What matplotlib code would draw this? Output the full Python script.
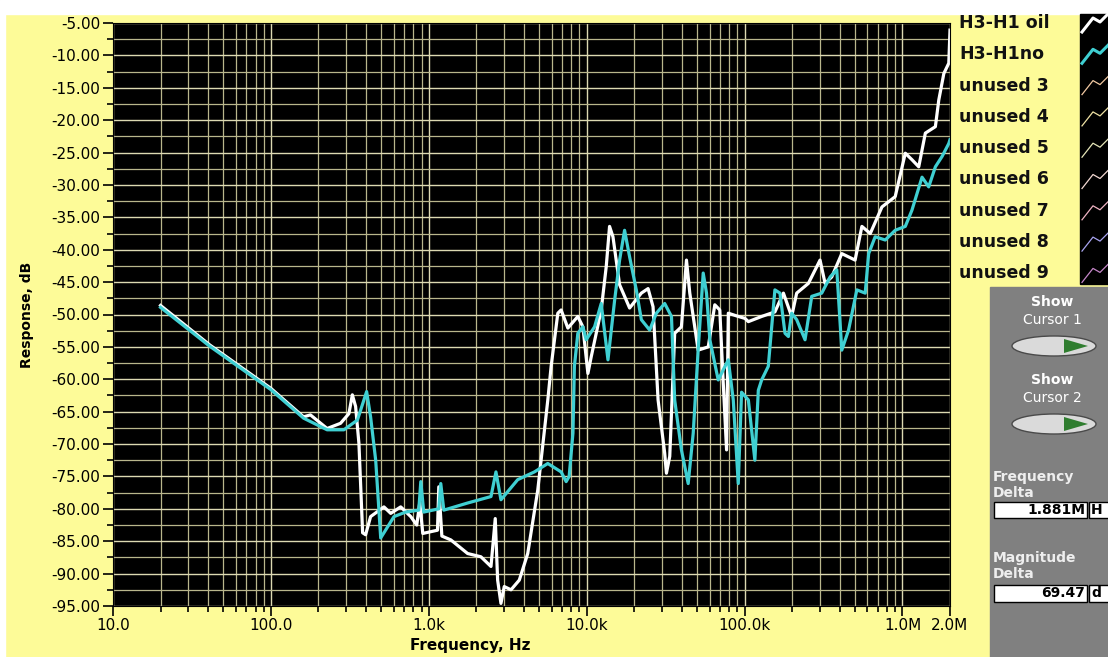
import matplotlib.pyplot as plt
from matplotlib.patches import Rectangle, Ellipse, Polygon
from matplotlib.ticker import FixedLocator, LogLocator, NullFormatter, MultipleLocator, FuncFormatter

# H3-H1 oil (white trace)
freq_oil = [20, 41, 100, 161, 178, 227, 276, 312, 328, 344, 361, 381, 398, 428, 520,
            574, 664, 769, 839, 877, 916, 1135, 1157, 1210, 1380, 1762, 2138, 2477, 2636,
            2729, 2864, 3006, 3317, 3743, 4233, 4900, 5672, 5955, 6565, 6890, 7600, 8790,
            9460, 10180, 10690, 12360, 13300, 13960, 14670, 16160, 18700, 22190, 24480,
            26320, 28330, 31190, 31990, 33580, 36090, 39810, 42850, 44980, 50820, 58880,
            64780, 69660, 73280, 76910, 78890, 91200, 100500, 105700, 128300, 155600,
            176200, 198700, 213800, 253600, 300600, 323600, 356500, 412800, 501200,
            553400, 625200, 741300, 899500, 1042000, 1148000, 1268000, 1396000, 1616000,
            1698000, 1828000, 1965000, 2000000]
db_oil = [-48.6, -54.7, -61.4, -65.8, -65.5, -67.6, -66.8, -65.3, -62.4, -64.2, -69.9,
          -83.7, -84.0, -81.2, -79.7, -80.7, -79.7, -81.2, -82.5, -79.0, -83.8, -83.3,
          -76.6, -84.2, -84.8, -86.9, -87.4, -88.9, -81.5, -91.0, -94.6, -92.0, -92.5,
          -91.0, -86.9, -77.1, -63.2, -58.0, -49.8, -49.3, -52.1, -50.3, -51.9, -59.1,
          -56.5, -49.3, -42.6, -36.4, -38.0, -45.4, -49.0, -46.7, -46.0, -48.8, -63.2,
          -71.4, -74.5, -71.9, -52.9, -51.9, -41.6, -46.7, -55.5, -55.0, -48.5, -49.3,
          -60.6, -70.9, -49.8, -50.3, -50.6, -51.1, -50.3, -49.6, -46.7, -50.3, -46.7,
          -45.2, -41.6, -45.2, -44.2, -40.6, -41.6, -36.4, -37.5, -33.4, -31.8, -25.1,
          -26.1, -27.2, -22.0, -21.0, -16.9, -12.8, -11.2, -6.1]

# H3-H1no (cyan trace)
freq_no = [20, 41, 100, 161, 227, 290, 353, 404, 428, 461, 496, 602, 714, 864, 890, 929,
           1157, 1191, 1245, 1762, 2477, 2663, 2864, 3656, 4667, 5672, 6890, 7413, 7744,
           8185, 8360, 8790, 9460, 9930, 11220, 12360, 13640, 15030, 16160, 17380, 18700,
           20620, 22190, 25060, 27630, 31190, 34430, 36090, 39810, 43940, 47290, 50820,
           54700, 57410, 60260, 68080, 78890, 84800, 91200, 95700, 105700, 116200, 122200,
           128300, 141300, 155600, 167500, 180300, 189500, 198700, 213800, 241500, 266200,
           308100, 348300, 383700, 412800, 455600, 514000, 580700, 610900, 671500, 778000,
           899500, 1042000, 1148000, 1330000, 1466000, 1616000, 1782000, 1965000, 2000000]
db_no = [-48.9, -54.9, -61.6, -66.0, -67.8, -67.8, -66.3, -61.9, -65.8, -72.5, -84.5,
         -81.2, -80.5, -80.2, -75.8, -80.5, -80.0, -76.1, -80.2, -79.1, -78.1, -74.3,
         -78.6, -75.5, -74.3, -73.0, -74.3, -75.8, -75.0, -68.3, -58.0, -52.9, -51.9,
         -53.9, -51.9, -48.3, -57.0, -47.8, -41.6, -37.0, -41.1, -46.2, -50.8, -52.4,
         -49.8, -48.3, -50.3, -63.2, -70.9, -76.1, -68.3, -55.5, -43.6, -46.7, -53.9,
         -60.1, -57.0, -63.2, -76.1, -62.0, -63.2, -72.5, -61.7, -60.1, -58.0, -46.2,
         -46.7, -52.9, -53.4, -49.8, -50.8, -53.9, -47.2, -46.7, -44.2, -43.1, -55.5,
         -52.4, -46.2, -46.7, -40.6, -38.0, -38.5, -37.0, -36.4, -33.9, -28.8, -30.3,
         -27.2, -25.6, -23.6, -23.0]

x_ticks = [10, 100, 1e3, 1e4, 1e5, 1e6, 2e6]
x_labels = ["10.0", "100.0", "1.0k", "10.0k", "100.0k", "1.0M", "2.0M"]
y_ticks = list(range(-5, -100, -5))

legend_names = ["H3-H1 oil", "H3-H1no", "unused 3", "unused 4", "unused 5",
                "unused 6", "unused 7", "unused 8", "unused 9"]
legend_colors = ["white", "#3fcfd2", "#f2c9a2", "#efe2a4", "#e6e6b8",
                 "#f2d8d2", "#f0b4c4", "#a8a4f0", "#c586c8"]

freq_delta = "1.881M"
mag_delta = "69.47"

YELLOW = "#fdfb98"
GREY = "#808080"

fig = plt.figure(figsize=(11.08, 6.57), dpi=100)

# background panel in pixel coordinates
bg = fig.add_axes([0, 0, 1, 1], zorder=0)
bg.set_xlim(0, 1108)
bg.set_ylim(657, 0)
bg.axis("off")
bg.add_patch(Rectangle((0, 0), 1108, 657, color=YELLOW))
bg.add_patch(Rectangle((0, 0), 1108, 14, color="white"))
bg.add_patch(Rectangle((0, 0), 5, 657, color="white"))
bg.add_patch(Rectangle((1080, 14), 28, 270, color="black"))
bg.add_patch(Rectangle((990, 287), 118, 370, color=GREY))

# legend
for i, (name, col) in enumerate(zip(legend_names, legend_colors)):
    yc = 23 + i * 31.3
    bg.text(959, yc, name, fontsize=12.5, fontweight="bold", family="DejaVu Sans",
            va="center", ha="left", color="#111111")
    lw = 2.2 if i < 2 else 0.9
    bg.plot([1082, 1093, 1100, 1108], [yc + 9, yc - 5, yc - 1, yc - 9], color=col, lw=lw)

# cursor controls
for yc, label in [(311, "Cursor 1"), (389, "Cursor 2")]:
    bg.text(1052, yc - 9, "Show", fontsize=10, fontweight="bold", color="white",
            ha="center", va="center")
    bg.text(1052, yc + 9, label, fontsize=10, color="white", ha="center", va="center")
    by = yc + 35
    bg.add_patch(Ellipse((1054, by), 84, 20, fc="#dadada", ec="#4a4a4a", lw=1))
    bg.add_patch(Polygon([(1064, by - 7), (1064, by + 7), (1088, by)], fc="#2f7d2f"))

bg.text(993, 477, "Frequency", fontsize=10, fontweight="bold", color="#eeeeee", va="center")
bg.text(993, 493, "Delta", fontsize=10, fontweight="bold", color="#eeeeee", va="center")
bg.add_patch(Rectangle((994, 502), 93, 16, fc="white", ec="black", lw=1))
bg.add_patch(Rectangle((1089, 502), 25, 16, fc="white", ec="black", lw=1))
bg.text(1085, 510, freq_delta, fontsize=10, fontweight="bold", ha="right", va="center")
bg.text(1091, 510, "H", fontsize=10, fontweight="bold", ha="left", va="center")

bg.text(993, 558, "Magnitude", fontsize=10, fontweight="bold", color="#eeeeee", va="center")
bg.text(993, 574, "Delta", fontsize=10, fontweight="bold", color="#eeeeee", va="center")
bg.add_patch(Rectangle((994, 585), 93, 17, fc="white", ec="black", lw=1))
bg.add_patch(Rectangle((1089, 585), 25, 17, fc="white", ec="black", lw=1))
bg.text(1085, 593, mag_delta, fontsize=10, fontweight="bold", ha="right", va="center")
bg.text(1091, 593, "d", fontsize=10, fontweight="bold", ha="left", va="center")

# main graph
ax = fig.add_axes([113 / 1108, 1 - 606 / 657, (950 - 113) / 1108, (606 - 23) / 657], zorder=2)
ax.set_facecolor("black")
ax.set_xscale("log")
ax.set_xlim(10, 2e6)
ax.set_ylim(-95, -5)

ax.xaxis.set_major_locator(FixedLocator(x_ticks))
ax.set_xticklabels(x_labels)
ax.xaxis.set_minor_locator(LogLocator(base=10, subs=range(2, 10), numticks=30))
ax.xaxis.set_minor_formatter(NullFormatter())
ax.yaxis.set_major_locator(FixedLocator(y_ticks))
ax.yaxis.set_major_formatter(FuncFormatter(lambda v, p: "%.2f" % v))
ax.yaxis.set_minor_locator(MultipleLocator(2.5))

ax.grid(True, which="major", color="#dcd9b2", lw=1)
ax.grid(True, which="minor", color="#b9b68c", lw=0.9)
ax.set_axisbelow(True)

ax.tick_params(which="major", direction="out", length=7, width=1.2, color="black",
               labelsize=11, pad=2)
ax.tick_params(which="minor", direction="out", length=4, width=1.2, color="black")
for s in ax.spines.values():
    s.set_color("black")

ax.plot(freq_oil, db_oil, color="white", lw=2.3)
ax.plot(freq_no, db_no, color="#3fcfd2", lw=2.3)

ax.set_ylabel("Response, dB", fontsize=10, fontweight="bold")
ax.yaxis.set_label_coords(-0.094, 0.5)
ax.set_xlabel("Frequency, Hz", fontsize=11, fontweight="bold")
ax.xaxis.set_label_coords(0.427, -0.055)

fig.savefig("out.png", dpi=100, facecolor="white")
